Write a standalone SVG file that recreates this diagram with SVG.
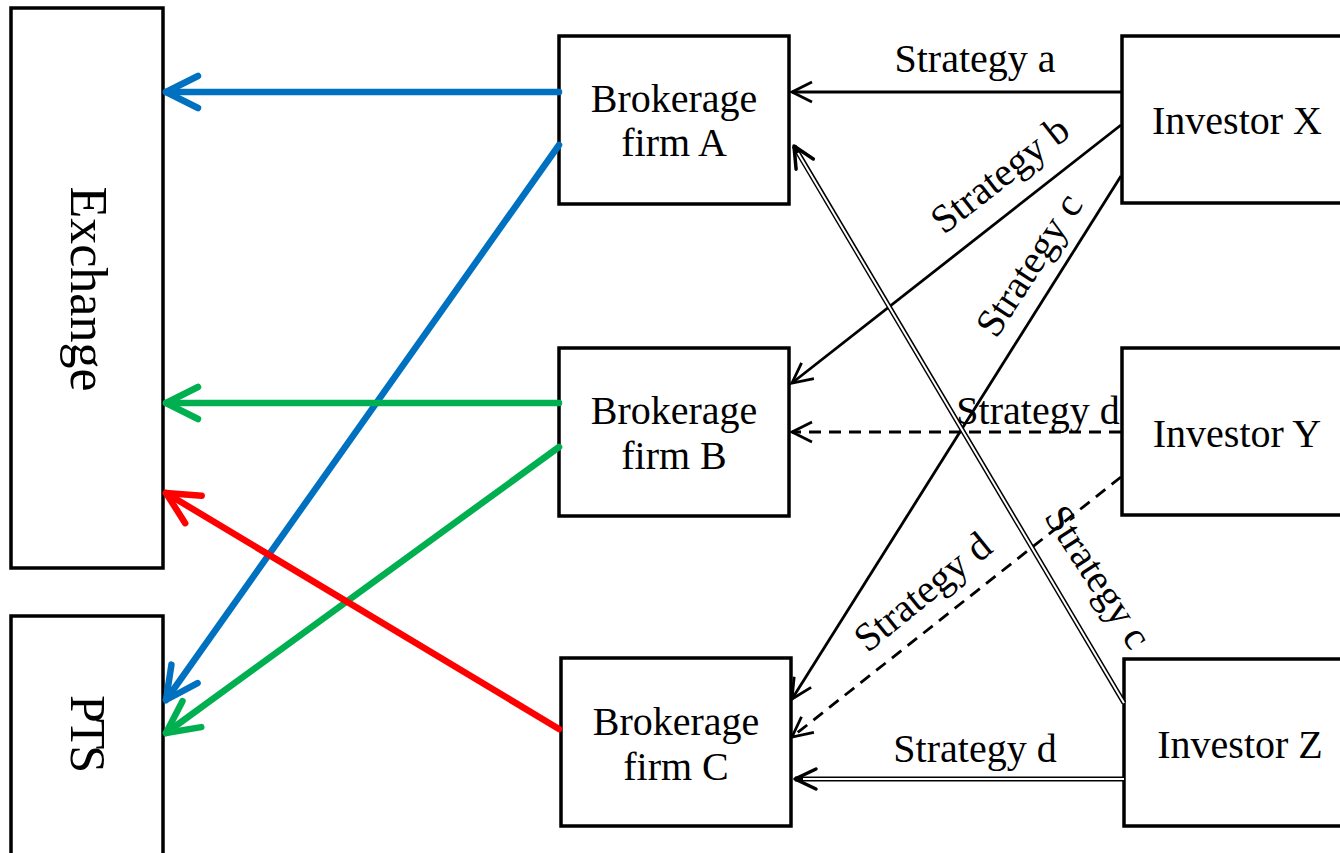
<svg xmlns="http://www.w3.org/2000/svg" width="1340" height="853" viewBox="0 0 1340 853">
<style>
.box{fill:#fff;stroke:#000;stroke-width:3.5}
.t{font-family:"Liberation Serif","Times New Roman",serif;font-size:40px;fill:#000;text-anchor:middle}
.big{font-size:52px}
.thick{fill:none;stroke-width:6.5;stroke-linecap:round}
.thin{fill:none;stroke:#000;stroke-width:2.8}
.dash{stroke-dasharray:12 8}
.dbl{fill:none;stroke:#000;stroke-width:5}
.dblin{fill:none;stroke:#fff;stroke-width:2}
</style>
<defs>
<marker id="mBlue" markerUnits="userSpaceOnUse" orient="auto" refX="0" refY="0" markerWidth="10" markerHeight="10" overflow="visible"><path d="M-32 -16 L0 0 L-32 16" fill="none" stroke="#0070C0" stroke-width="6.5" stroke-linecap="round" stroke-linejoin="round"/></marker>
<marker id="mGreen" markerUnits="userSpaceOnUse" orient="auto" refX="0" refY="0" markerWidth="10" markerHeight="10" overflow="visible"><path d="M-32 -16 L0 0 L-32 16" fill="none" stroke="#00B050" stroke-width="6.5" stroke-linecap="round" stroke-linejoin="round"/></marker>
<marker id="mRed" markerUnits="userSpaceOnUse" orient="auto" refX="0" refY="0" markerWidth="10" markerHeight="10" overflow="visible"><path d="M-32 -16 L0 0 L-32 16" fill="none" stroke="#FF0000" stroke-width="6.5" stroke-linecap="round" stroke-linejoin="round"/></marker>
<marker id="mBlack" markerUnits="userSpaceOnUse" orient="auto" refX="0" refY="0" markerWidth="10" markerHeight="10" overflow="visible"><path d="M-20 -10 L0 0 L-20 10" fill="none" stroke="#000" stroke-width="2.8" stroke-dasharray="none" stroke-linejoin="miter"/></marker>
<marker id="mDbl" markerUnits="userSpaceOnUse" orient="auto" refX="0" refY="0" markerWidth="10" markerHeight="10" overflow="visible"><path d="M-21 -10 L0 0 L-21 10" fill="none" stroke="#000" stroke-width="3.5" stroke-linecap="round" stroke-linejoin="round"/></marker>
</defs>
<rect width="1340" height="853" fill="#fff"/>
<g id="exchange"><rect class="box" x="11" y="8" width="152" height="560"/><text class="t big" transform="translate(71 289) rotate(90)">Exchange</text></g>
<g id="pts"><rect class="box" x="11" y="616" width="152" height="260"/><text class="t" style="font-size:50px" textLength="78" transform="translate(71 734) rotate(90)">PTS</text></g>
<g id="firmA"><rect class="box" x="559" y="36" width="230" height="168"/><text class="t" x="674" y="112">Brokerage</text><text class="t" x="674" y="156">firm A</text></g>
<g id="firmB"><rect class="box" x="559" y="348" width="230" height="168"/><text class="t" x="674" y="424">Brokerage</text><text class="t" x="674" y="469">firm B</text></g>
<g id="firmC"><rect class="box" x="561" y="658" width="230" height="168"/><text class="t" x="676" y="735">Brokerage</text><text class="t" x="676" y="780">firm C</text></g>
<g id="investorX"><rect class="box" x="1122" y="36" width="240" height="167"/><text class="t" x="1237" y="134">Investor X</text></g>
<g id="investorY"><rect class="box" x="1122" y="348" width="240" height="167"/><text class="t" x="1237" y="447">Investor Y</text></g>
<g id="investorZ"><rect class="box" x="1124" y="659" width="240" height="167"/><text class="t" x="1240" y="758">Investor Z</text></g>
<g id="connectors">
<line x1="559" y1="92" x2="166" y2="92" class="thick" stroke="#0070C0" marker-end="url(#mBlue)"/>
<line x1="559" y1="145" x2="166" y2="700" class="thick" stroke="#0070C0" marker-end="url(#mBlue)"/>
<line x1="559" y1="403" x2="166" y2="403" class="thick" stroke="#00B050" marker-end="url(#mGreen)"/>
<line x1="559" y1="447" x2="166" y2="733" class="thick" stroke="#00B050" marker-end="url(#mGreen)"/>
<line x1="559" y1="729" x2="166" y2="493" class="thick" stroke="#FF0000" marker-end="url(#mRed)"/>
<line x1="1121" y1="92" x2="792" y2="92" class="thin" marker-end="url(#mBlack)"/>
<line x1="1121" y1="125" x2="792" y2="383" class="thin" marker-end="url(#mBlack)"/>
<line x1="1121" y1="176" x2="792" y2="699" class="thin" marker-end="url(#mBlack)"/>
<line x1="1121" y1="432" x2="792" y2="432" class="thin dash" marker-end="url(#mBlack)"/>
<line x1="1121" y1="477" x2="792" y2="737" class="thin dash" marker-end="url(#mBlack)"/>
<line x1="1124" y1="703" x2="794" y2="146" class="dbl" marker-end="url(#mDbl)"/>
<line x1="1124" y1="703" x2="798" y2="153" class="dblin"/>
<line x1="1124" y1="779" x2="795" y2="779" class="dbl" marker-end="url(#mDbl)"/>
<line x1="1124" y1="779" x2="803" y2="779" class="dblin"/>
<text class="t" x="975" y="72">Strategy a</text>
<text class="t" transform="translate(1008 185) rotate(-38)">Strategy b</text>
<text class="t" transform="translate(1040 272) rotate(-57)">Strategy c</text>
<text class="t" x="1038" y="424">Strategy d</text>
<text class="t" transform="translate(931 602) rotate(-39)">Strategy d</text>
<text class="t" transform="translate(1087 584) rotate(57)">Strategy c</text>
<text class="t" x="975" y="762">Strategy d</text>
</g>
</svg>
